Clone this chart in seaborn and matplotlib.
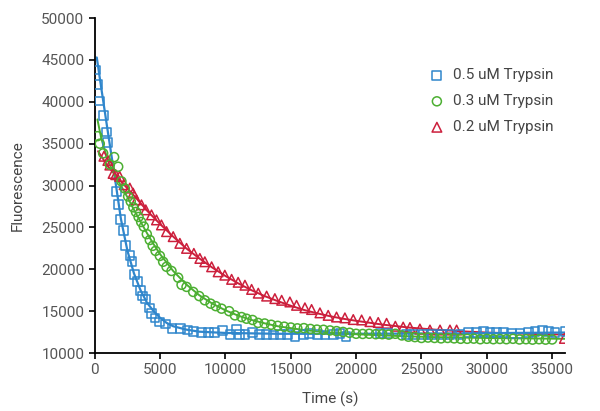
import matplotlib
matplotlib.use("Agg")
import matplotlib.pyplot as plt
import seaborn as sns

# measured points (time in s, fluorescence)
blue_t = [50, 250, 380, 640, 890, 960, 1660, 1790, 1990, 2170, 2370, 2700, 2850, 3060, 3240,
          3500, 3650, 3900, 4160, 4310, 4600, 4980, 5440, 5900, 6560, 7070, 7530, 8170, 8680,
          9190, 9780, 10340, 10850, 11050, 11490, 12070, 12580, 13150, 13650, 14220, 14730,
          15320, 15950, 16460, 17020, 17610, 18250, 18760, 19220, 21820, 22380, 23870, 24380,
          25150, 25790, 26550, 27190, 27950, 28590, 29230, 29730, 30240, 30750, 31260, 31900,
          32540, 33180, 33690, 34280, 34710, 35220, 35990]
blue_f = [43800, 42100, 40100, 38400, 36400, 35150, 29250, 27750, 25950, 24600, 22800, 21650,
          20900, 19400, 18550, 17500, 16800, 16450, 15370, 14740, 14180, 13700, 13460, 12950,
          12950, 12750, 12550, 12450, 12450, 12450, 12700, 12230, 12800, 12230, 12230, 12420,
          12230, 12230, 12150, 12230, 12230, 11970, 12230, 12350, 12230, 12150, 12230, 12350,
          11950, 12350, 12350, 12230, 12200, 12200, 12200, 12230, 12230, 12200, 12420, 12420,
          12550, 12480, 12480, 12480, 12350, 12350, 12480, 12550, 12660, 12550, 12480, 12550]

green_t = [200, 380, 640, 1150, 1480, 1790, 2040, 2300, 2550, 2750, 2950, 3150, 3350, 3550,
           3750, 3980, 4210, 4430, 4650, 4980, 5230, 5490, 5870, 6380, 6640, 7020, 7530, 7990,
           8420, 8860, 9260, 9700, 10280, 10720, 11230, 11610, 12070, 12500, 13000, 13500,
           14000, 14500, 15000, 15500, 16000, 16500, 17000, 17500, 18000, 18500, 19000, 19500,
           20000, 20500, 21000, 21500, 22000, 22500, 23000, 23500, 24000, 24500, 25000, 25500,
           26000, 26500, 27000, 27500, 28000, 28500, 29000, 29500, 30000, 30500, 31000, 31500,
           32000, 32500, 33000, 33500, 34000, 34500, 35000]
green_f = [35900, 35000, 33850, 32500, 33400, 32250, 30500, 29650, 28700, 28100, 27400, 26850,
           26250, 25650, 25100, 24200, 23500, 22800, 22200, 21600, 20900, 20300, 19800, 19000,
           18150, 17900, 17300, 16800, 16300, 15900, 15600, 15300, 15000, 14500, 14300, 14100,
           13950, 13600, 13530, 13380, 13250, 13150, 13050, 12950, 12980, 12880, 12800, 12780,
           12700, 12620, 12520, 12420, 12300, 12280, 12300, 12250, 12250, 12200, 12300, 12100,
           11950, 11900, 11800, 11850, 11800, 11750, 11800, 11750, 11700, 11700, 11720, 11650,
           11700, 11650, 11680, 11650, 11700, 11620, 11650, 11600, 11650, 11600, 11620]

red_t = [700, 1000, 1150, 1400, 1600, 1900, 2240, 2680, 2930, 3190, 3570, 3900, 4340, 4720,
         5100, 5490, 6000, 6510, 7020, 7580, 8040, 8420, 8940, 9440, 9950, 10470, 10970, 11490,
         12000, 12510, 13150, 13780, 14300, 14930, 15440, 16080, 16590, 17230, 17860, 18500,
         19140, 19780, 20420, 21060, 21690, 22330, 23000, 23600, 24120, 24880, 25650, 26420,
         27180, 27690, 35940]
red_f = [33500, 33000, 32450, 31450, 31300, 31100, 30100, 29700, 29100, 28300, 27700, 27100,
         26500, 25900, 25300, 24500, 23900, 23100, 22500, 21900, 21300, 20900, 20300, 19700,
         19300, 18800, 18450, 18100, 17600, 17150, 16800, 16500, 16300, 16100, 15700, 15400,
         15200, 14800, 14500, 14300, 14200, 14000, 13950, 13750, 13650, 13550, 13200, 13100,
         13050, 12870, 12750, 12750, 12750, 12750, 11750]

# fitted curves
blue_fit_t = [150, 500, 1000, 1500, 2000, 2500, 3000, 3500, 4000, 4500, 5000, 5500, 6000,
              7000, 8000, 10000, 14000, 20000, 28000, 36000]
blue_fit_f = [45300, 41600, 36400, 31300, 26000, 22200, 19500, 17500, 16000, 15000, 14200,
              13600, 13200, 12800, 12550, 12400, 12300, 12300, 12350, 12450]
green_fit_t = [200, 500, 1000, 1500, 2000, 2500, 3000, 3500, 4000, 4500, 5000, 6000, 7000,
               8000, 9000, 10000, 11000, 12000, 13000, 14000, 16000, 18000, 20000, 23000,
               26000, 30000, 36000]
green_fit_f = [37900, 35600, 33000, 31300, 30000, 28600, 27100, 25700, 24300, 23000, 21800,
               19800, 18200, 16900, 15900, 15100, 14450, 13950, 13550, 13200, 12750, 12450,
               12250, 12050, 11900, 11800, 11700]
red_fit_t = [250, 1000, 2000, 3000, 4000, 5000, 6000, 7000, 8000, 9000, 10000, 11000, 12000,
             13000, 14000, 15000, 16000, 17000, 18000, 19000, 20000, 22000, 24000, 26000,
             28000, 30000, 33000, 36000]
red_fit_f = [34100, 32300, 30500, 28800, 27000, 25400, 23900, 22500, 21300, 20200, 19200,
             18300, 17500, 16800, 16200, 15650, 15150, 14750, 14400, 14100, 13850, 13400,
             13050, 12800, 12600, 12450, 12300, 12200]

labels = ["0.5 uM Trypsin", "0.3 uM Trypsin", "0.2 uM Trypsin"]
c_blue, c_green, c_red = "#2f86cc", "#4caf32", "#cc1f3c"

sns.set_style("ticks")
plt.rcParams["font.family"] = ["Roboto", "DejaVu Sans"]

fig = plt.figure(figsize=(6, 4.11), dpi=100)
ax = fig.add_axes([0.158, 0.141, 0.784, 0.815])

sns.lineplot(x=red_fit_t, y=red_fit_f, color=c_red, linewidth=1.4, ax=ax)
sns.lineplot(x=blue_fit_t, y=blue_fit_f, color=c_blue, linewidth=1.6, ax=ax)
sns.lineplot(x=green_fit_t, y=green_fit_f, color=c_green, linewidth=1.4, ax=ax)

sns.scatterplot(x=red_t, y=red_f, marker="^", s=48, facecolors="none", edgecolor=c_red,
                linewidth=1.1, label=labels[2], ax=ax, zorder=3)
sns.scatterplot(x=blue_t, y=blue_f, marker="s", s=40, facecolors="none", edgecolor=c_blue,
                linewidth=1.1, label=labels[0], ax=ax, zorder=3)
sns.scatterplot(x=green_t, y=green_f, marker="o", s=42, facecolors="none", edgecolor=c_green,
                linewidth=1.1, label=labels[1], ax=ax, zorder=3)

ax.set_xlim(0, 36000)
ax.set_ylim(10000, 50000)
ax.set_xticks(range(0, 36000, 5000))
ax.set_yticks(range(10000, 50001, 5000))
ax.tick_params(direction="out", length=4, width=1.2, colors="black", labelcolor="#555555",
               labelsize=11)
for s in ["left", "bottom"]:
    ax.spines[s].set_linewidth(1.3)
    ax.spines[s].set_color("black")
sns.despine(ax=ax)

ax.set_xlabel("Time (s)", fontsize=11, color="#444444", labelpad=10)
ax.set_ylabel("Fluorescence", fontsize=11, color="#444444", labelpad=12)

h, l = ax.get_legend_handles_labels()
order = [l.index(t) for t in labels]
ax.legend([h[i] for i in order], [l[i] for i in order], loc="upper left",
          bbox_to_anchor=(0.698, 0.868), borderaxespad=0, frameon=False, fontsize=11,
          handlelength=1.0, handletextpad=0.55, labelspacing=0.78, labelcolor="#444444")

fig.savefig("out.png", dpi=100)
